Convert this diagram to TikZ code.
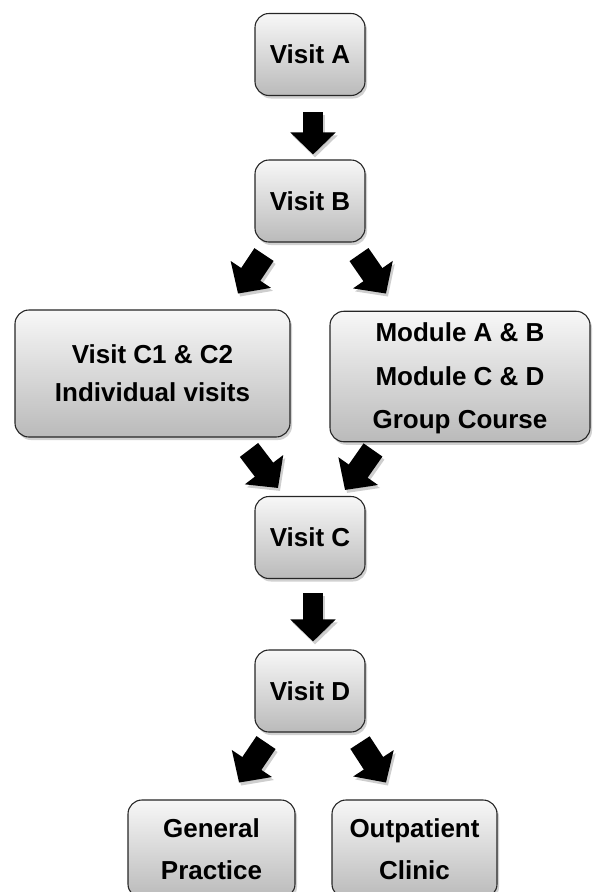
\documentclass[tikz,border=0pt]{standalone}
\usepackage{fontspec}
\setmainfont{Liberation Sans}
\usetikzlibrary{arrows.meta,calc,shadows}
\begin{document}
\begin{tikzpicture}[x=1pt,y=-1pt,
  box/.style={draw=black!85,line width=1.1pt,rounded corners=14pt,
    top color=black!3,bottom color=black!27,
    drop shadow={shadow xshift=2pt,shadow yshift=-3pt,opacity=0.3,fill=black!60},
    align=center,inner sep=0pt,
    font=\bfseries\fontsize{26}{38}\selectfont},
  visit/.style={box,minimum width=110pt,minimum height=82pt},
  barrow/.style={line width=20pt,-{Triangle[width=44pt,length=22pt]}},
  darrow/.style={line width=23pt,-{Triangle[width=47pt,length=23pt]}},
  shad/.style={draw=black!35,opacity=0.55}
]
\useasboundingbox (0,0) rectangle (592,892);
\clip (0,0) rectangle (592,892);
\node[visit] (va) at (310,54.5) {Visit A};
\node[visit] (vb) at (310,201) {Visit B};
\node[box,minimum width=275pt,minimum height=127pt] (c12) at (152.5,373.5) {Visit C1 \& C2\\Individual visits};
\node[box,minimum width=260pt,minimum height=127pt,font=\bfseries\fontsize{26}{43.5}\selectfont] (mod) at (460,376.5) {\raisebox{-3pt}{\begin{tabular}{@{}c@{}}Module A \& B\\Module C \& D\\Group Course\end{tabular}}};
\node[visit] (vc) at (310,537.5) {Visit C};
\node[visit] (vd) at (310,691) {Visit D};
\node[box,minimum width=167pt,minimum height=98pt,font=\bfseries\fontsize{26}{42}\selectfont] (gp) at (211.5,849) {General\\Practice};
\node[box,minimum width=165pt,minimum height=98pt,font=\bfseries\fontsize{26}{42}\selectfont] (oc) at (414.5,849) {Outpatient\\Clinic};

% coordinates for arrow ends
\coordinate (a1s) at ($(va.south)+(3,16)$);
\coordinate (a1e) at ($(vb.north)+(3,-5)$);
\coordinate (a2s) at ($(vb.south)+(-46,12)$);
\coordinate (a2e) at ($(vb.south)+(-72,51)$);
\coordinate (a3s) at ($(vb.south)+(49,12)$);
\coordinate (a3e) at ($(vb.south)+(76,51)$);
\coordinate (a4s) at ($(vc.north)+(-61,-46)$);
\coordinate (a4e) at ($(vc.north)+(-32,-8)$);
\coordinate (a5s) at ($(vc.north)+(63,-46)$);
\coordinate (a5e) at ($(vc.north)+(35,-6)$);
\coordinate (a6s) at ($(vc.south)+(3,14)$);
\coordinate (a6e) at ($(vd.north)+(3,-8)$);
\coordinate (a7s) at ($(vd.south)+(-44,10)$);
\coordinate (a7e) at ($(vd.south)+(-71,50)$);
\coordinate (a8s) at ($(vd.south)+(50,10)$);
\coordinate (a8e) at ($(vd.south)+(76,50)$);

\foreach \s/\e/\st in {a1s/a1e/barrow,a6s/a6e/barrow,a2s/a2e/darrow,a3s/a3e/darrow,a4s/a4e/darrow,a5s/a5e/darrow,a7s/a7e/darrow,a8s/a8e/darrow}{
  \draw[\st,shad] ($(\s)+(2,3)$) -- ($(\e)+(2,3)$);
}
\foreach \s/\e/\st in {a1s/a1e/barrow,a6s/a6e/barrow,a2s/a2e/darrow,a3s/a3e/darrow,a4s/a4e/darrow,a5s/a5e/darrow,a7s/a7e/darrow,a8s/a8e/darrow}{
  \draw[\st] (\s) -- (\e);
}
\end{tikzpicture}
\end{document}
